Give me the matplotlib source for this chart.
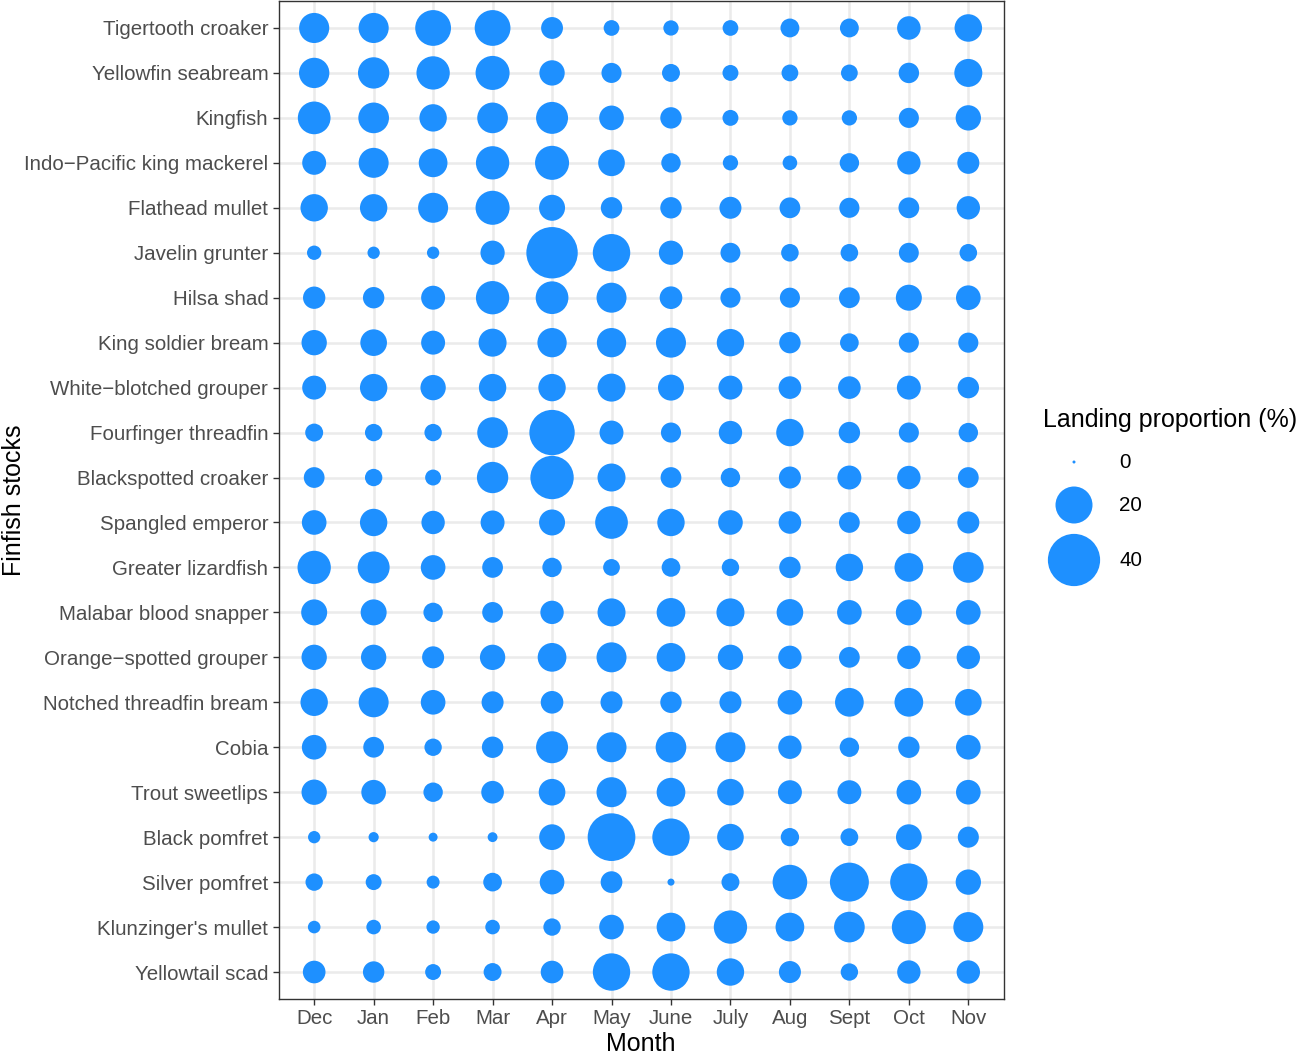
import matplotlib
matplotlib.use("Agg")
import matplotlib.pyplot as plt
import numpy as np

plt.rcParams['font.family'] = ['Liberation Sans', 'DejaVu Sans']

months = ['Dec', 'Jan', 'Feb', 'Mar', 'Apr', 'May', 'June', 'July', 'Aug', 'Sept', 'Oct', 'Nov']

stocks = ['Tigertooth croaker', 'Yellowfin seabream', 'Kingfish', 'Indo\u2212Pacific king mackerel',
          'Flathead mullet', 'Javelin grunter', 'Hilsa shad', 'King soldier bream',
          'White\u2212blotched grouper', 'Fourfinger threadfin', 'Blackspotted croaker',
          'Spangled emperor', 'Greater lizardfish', 'Malabar blood snapper',
          'Orange\u2212spotted grouper', 'Notched threadfin bream', 'Cobia', 'Trout sweetlips',
          'Black pomfret', 'Silver pomfret', "Klunzinger's mullet", 'Yellowtail scad']

# landing proportion (%) per stock, months Dec..Nov
tigertooth_croaker = [13.2, 13.2, 18.7, 18.7, 6.9, 3.5, 3.3, 3.5, 5.1, 5.1, 8.0, 11.0]
yellowfin_seabream = [13.4, 14.3, 16.2, 16.9, 9.3, 5.8, 4.6, 3.6, 4.0, 4.0, 6.0, 11.4]
kingfish = [15.6, 13.7, 10.9, 13.7, 14.9, 8.8, 6.6, 3.6, 3.3, 3.3, 5.8, 9.3]
king_mackerel = [8.3, 13.1, 12.0, 16.2, 16.9, 10.3, 5.4, 3.3, 3.0, 5.4, 7.9, 7.0]
flathead_mullet = [10.9, 10.9, 13.1, 16.9, 9.8, 6.6, 6.6, 7.0, 6.2, 5.8, 6.2, 7.9]
javelin_grunter = [2.9, 2.1, 2.1, 8.5, 38.7, 20.5, 8.5, 5.7, 4.4, 4.4, 5.7, 4.4]
hilsa_shad = [7.2, 6.6, 8.3, 16.2, 15.6, 13.1, 7.4, 5.8, 5.8, 6.2, 9.8, 8.8]
king_soldier_bream = [9.3, 10.3, 8.3, 11.4, 12.5, 12.5, 13.1, 10.9, 6.6, 5.0, 5.8, 5.8]
white_blotched_grouper = [8.3, 10.9, 9.3, 10.9, 10.9, 11.4, 9.8, 8.3, 7.4, 7.4, 8.3, 6.6]
fourfinger_threadfin = [4.6, 4.3, 4.3, 13.7, 30.1, 8.3, 5.8, 7.9, 10.9, 6.6, 5.8, 5.4]
blackspotted_croaker = [6.2, 4.3, 3.6, 14.3, 27.5, 11.4, 6.2, 5.4, 7.0, 8.3, 7.9, 6.2]
spangled_emperor = [8.8, 10.9, 7.9, 8.3, 9.8, 15.6, 10.9, 8.8, 7.4, 6.2, 7.9, 7.0]
greater_lizardfish = [16.2, 14.9, 8.8, 6.2, 5.4, 4.0, 5.0, 4.3, 6.6, 10.9, 12.0, 13.7]
malabar_snapper = [9.8, 9.8, 5.4, 6.2, 7.9, 11.4, 12.0, 11.4, 10.3, 8.8, 9.8, 8.8]
orange_spotted_grouper = [9.3, 9.3, 7.0, 9.3, 12.0, 13.1, 12.0, 9.3, 7.9, 6.2, 7.9, 7.9]
notched_threadfin_bream = [10.9, 13.1, 8.8, 7.0, 7.4, 7.0, 6.6, 7.0, 8.8, 12.0, 12.0, 10.3]
cobia = [8.8, 6.2, 4.3, 6.6, 14.9, 13.1, 13.7, 13.1, 7.9, 5.4, 6.6, 8.8]
trout_sweetlips = [9.3, 8.8, 5.4, 7.4, 10.3, 13.1, 12.0, 10.3, 8.3, 8.3, 8.8, 8.8]
black_pomfret = [2.1, 1.4, 1.05, 1.3, 9.6, 33.3, 20.4, 10.3, 4.8, 4.5, 9.6, 6.4]
silver_pomfret = [4.3, 3.6, 2.35, 5.0, 8.8, 6.8, 0.6, 4.6, 17.5, 22.2, 20.4, 9.3]
klunzingers_mullet = [2.2, 3.0, 2.5, 3.0, 4.3, 8.8, 12.0, 16.2, 12.0, 13.7, 16.9, 13.1]
yellowtail_scad = [7.4, 6.6, 3.6, 4.6, 7.4, 20.4, 20.4, 10.9, 7.0, 4.3, 7.9, 7.9]

proportions = [tigertooth_croaker, yellowfin_seabream, kingfish, king_mackerel, flathead_mullet,
               javelin_grunter, hilsa_shad, king_soldier_bream, white_blotched_grouper,
               fourfinger_threadfin, blackspotted_croaker, spangled_emperor, greater_lizardfish,
               malabar_snapper, orange_spotted_grouper, notched_threadfin_bream, cobia,
               trout_sweetlips, black_pomfret, silver_pomfret, klunzingers_mullet, yellowtail_scad]

legend_values = [0, 20, 40]

POINT = '#1E90FF'
W, H = 1299, 1061


def area(v):
    # marker area (pt^2), area grows linearly with the value, small floor at 0
    v = np.asarray(v, dtype=float)
    d_px = np.sqrt(9 + 68 * v)
    return (0.72 * d_px) ** 2


fig = plt.figure(figsize=(W / 100, H / 100), dpi=100)
ax = fig.add_axes([278.5 / W, 1 - 999 / H, 725.5 / W, 998 / H])

xs, ys, vals = [], [], []
for i, row in enumerate(proportions):
    for j, v in enumerate(row):
        xs.append(j)
        ys.append(i)
        vals.append(v)

ax.scatter(xs, ys, s=area(vals), color=POINT, linewidths=0, zorder=3)

ax.set_xlim(-0.6, len(months) - 0.4)
ax.set_ylim(len(stocks) - 0.4, -0.6)
ax.set_xticks(range(len(months)))
ax.set_xticklabels(months)
ax.set_yticks(range(len(stocks)))
ax.set_yticklabels(stocks)

ax.grid(True, color='#EBEBEB', linewidth=1.8, zorder=0)
ax.set_axisbelow(True)
for sp in ax.spines.values():
    sp.set_color('#333333')
    sp.set_linewidth(1.0)
ax.tick_params(axis='both', length=4.3, width=1.0, color='#333333',
               labelsize=14.8, labelcolor='#4D4D4D', pad=3)

# axis titles placed in figure pixels
fig.text(641 / W, 1 - 1044 / H, 'Month', fontsize=18, ha='center', va='center')
fig.text(14 / W, 1 - 500 / H, 'Finfish stocks', fontsize=18, ha='center', va='center',
         rotation=90)

# legend drawn in its own pixel-based axes
lax = fig.add_axes([1030 / W, 1 - 600 / H, 269 / W, 200 / H])
lax.set_xlim(1030, 1299)
lax.set_ylim(600, 400)
lax.axis('off')
key_y = [462, 505, 560]
lax.scatter([1074] * len(legend_values), key_y, s=area(legend_values), color=POINT,
            linewidths=0, clip_on=False)
for yy, v in zip(key_y, legend_values):
    lax.text(1119, yy, str(v), fontsize=14.8, va='center', ha='left', color='black')
lax.text(1043, 420, 'Landing proportion (%)', fontsize=18, va='center', ha='left')

fig.savefig('out.png', dpi=100)
